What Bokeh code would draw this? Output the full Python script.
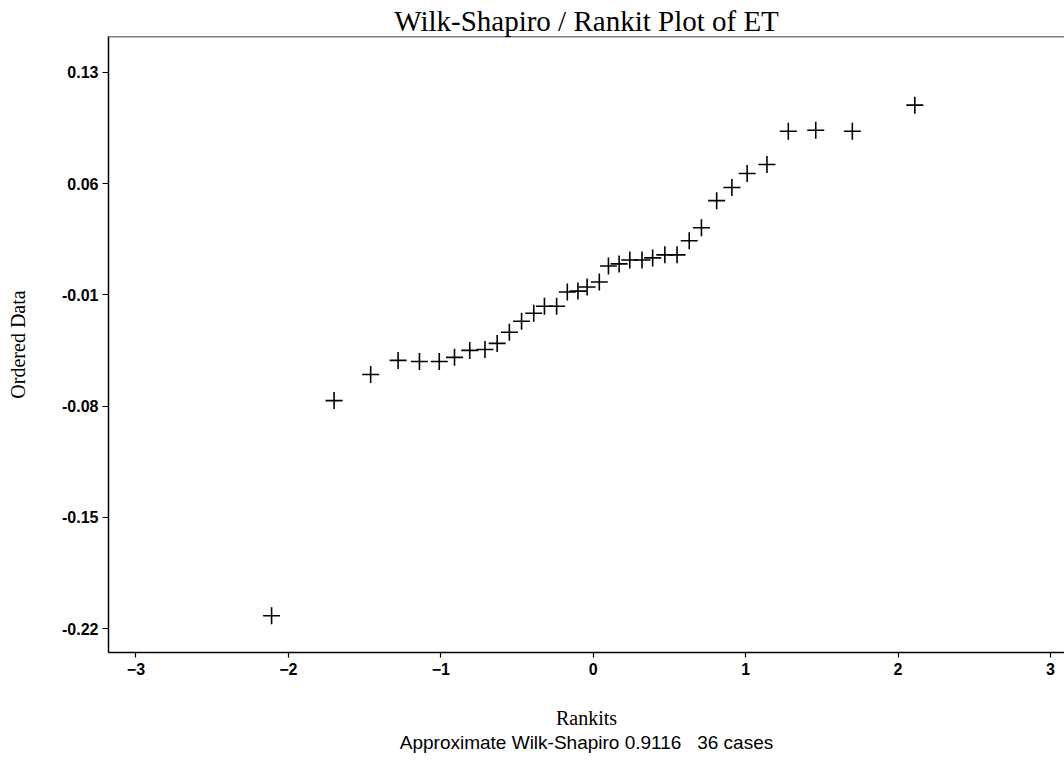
from bokeh.plotting import figure
from bokeh.models import Range1d, FixedTicker, Span, Title
from bokeh.embed import file_html
from bokeh.resources import INLINE

# Rankits (expected normal order statistics)
rankits = [-2.11, -1.70, -1.46, -1.28, -1.14, -1.01, -0.91, -0.81, -0.71, -0.63,
           -0.55, -0.47, -0.39, -0.32, -0.24, -0.17, -0.10, -0.04, 0.04, 0.10,
           0.17, 0.24, 0.32, 0.39, 0.47, 0.55, 0.63, 0.71, 0.81, 0.91,
           1.01, 1.14, 1.28, 1.46, 1.70, 2.11]
# Ordered ET data
ordered = [-0.212, -0.0766, -0.0602, -0.0513, -0.052, -0.052, -0.0494, -0.045, -0.0444, -0.0406,
           -0.0336, -0.0267, -0.0216, -0.0172, -0.0172, -0.0083, -0.0077, -0.0051, -0.002, 0.0081,
           0.0094, 0.0119, 0.0119, 0.0132, 0.0151, 0.0151, 0.024, 0.0322, 0.0492, 0.0575,
           0.0663, 0.072, 0.0929, 0.0935, 0.0929, 0.1093]
x_ticks = [-3, -2, -1, 0, 1, 2, 3]
y_ticks = [0.13, 0.06, -0.01, -0.08, -0.15, -0.22]

title_text = "Wilk-Shapiro / Rankit Plot of ET"
x_label = "Rankits"
y_label = "Ordered Data"
note_text = "Approximate Wilk-Shapiro 0.9116\u00a0\u00a0\u00a036 cases"

Y_TOP, Y_BOT = 0.1525, -0.2351
X_LEFT, X_RIGHT = -3.18, 3.092

p = figure(width=1064, height=762, output_backend="svg", toolbar_location=None,
           x_range=Range1d(X_LEFT, X_RIGHT), y_range=Range1d(Y_BOT, Y_TOP),
           min_border_left=108, min_border_right=0, min_border_top=36, min_border_bottom=110)

p.title.text = title_text
p.title.align = "center"
p.title.text_font = "Liberation Serif"
p.title.text_font_size = "29px"
p.title.text_font_style = "normal"
p.title.text_color = "black"
p.title.standoff = 0

p.outline_line_color = None
p.grid.visible = False
p.background_fill_color = "white"
p.border_fill_color = "white"

p.add_layout(Span(location=Y_TOP, dimension="width", line_color="black", line_width=1.5))

for ax in (p.xaxis[0], p.yaxis[0]):
    ax.axis_line_color = "black"
    ax.axis_line_width = 1.5
    ax.major_tick_line_color = "black"
    ax.major_tick_line_width = 1.2
    ax.major_tick_in = 0
    ax.minor_tick_line_color = None
    ax.major_label_text_font = "Liberation Sans"
    ax.major_label_text_font_style = "bold"
    ax.major_label_text_font_size = "16px"
    ax.major_label_text_color = "black"
    ax.axis_label_text_font = "Liberation Serif"
    ax.axis_label_text_font_style = "normal"
    ax.axis_label_text_font_size = "20px"
    ax.axis_label_text_color = "black"

p.xaxis.ticker = FixedTicker(ticks=x_ticks)
p.xaxis.major_tick_out = 5
p.xaxis.major_label_standoff = 5
p.xaxis.axis_label = x_label
p.xaxis.axis_label_standoff = 29

p.yaxis.ticker = FixedTicker(ticks=y_ticks)
p.yaxis.major_tick_out = 6
p.yaxis.major_label_standoff = 4
p.yaxis.axis_label = y_label
p.yaxis.axis_label_standoff = 30
p.yaxis.major_label_overrides = {t: f"{t:.2f}" for t in y_ticks}

note = Title(text=note_text, align="center", text_font="Liberation Sans",
             text_font_size="19px", text_font_style="normal", text_color="black", standoff=-4)
p.add_layout(note, "below")

p.scatter(rankits, ordered, marker="cross", size=17, line_color="black", line_width=1.6)

open("out.html", "w").write(file_html(p, INLINE))
